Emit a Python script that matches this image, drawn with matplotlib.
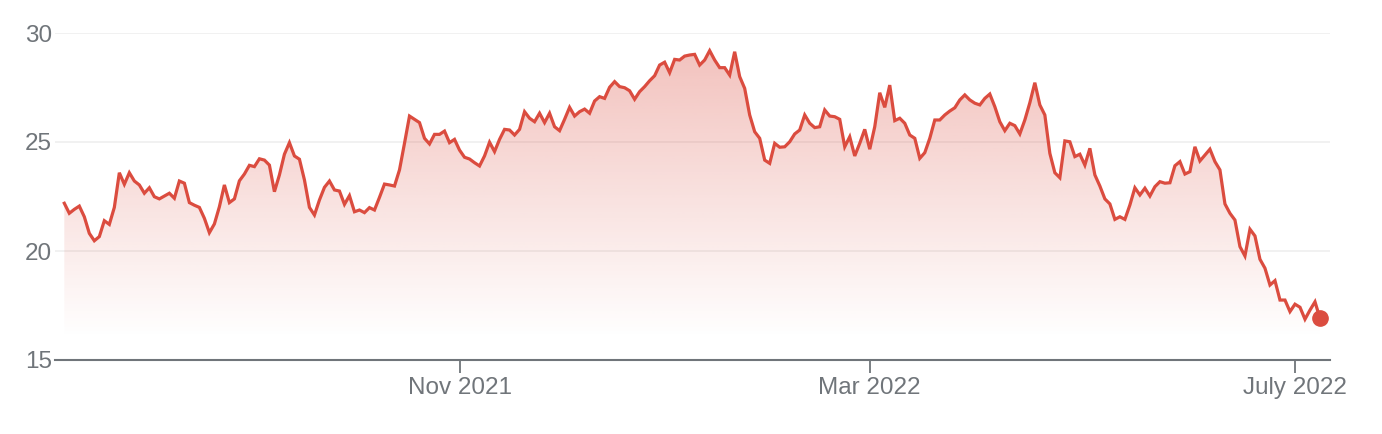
import matplotlib
matplotlib.use('Agg')
import matplotlib.pyplot as plt
import numpy as np
import pandas as pd

# daily closing prices, one per trading day
prices = [
    22.19, 21.73, 21.91, 22.06, 21.57, 20.81, 20.47, 20.66, 21.39, 21.22,
    22.00, 23.59, 23.06, 23.59, 23.21, 23.03, 22.65, 22.90, 22.49, 22.39,
    22.52, 22.65, 22.42, 23.21, 23.11, 22.22, 22.10, 22.00, 21.50, 20.84,
    21.24, 22.03, 23.03, 22.22, 22.39, 23.22, 23.53, 23.93, 23.87, 24.23,
    24.17, 23.94, 22.72, 23.49, 24.44, 24.97, 24.36, 24.21, 23.26, 22.00,
    21.65, 22.34, 22.92, 23.21, 22.80, 22.75, 22.14, 22.54, 21.80, 21.88,
    21.76, 21.99, 21.88, 22.46, 23.07, 23.03, 22.98, 23.72, 24.94, 26.19,
    26.04, 25.89, 25.17, 24.91, 25.35, 25.35, 25.50, 24.97, 25.12, 24.63,
    24.30, 24.22, 24.05, 23.90, 24.36, 24.99, 24.56, 25.12, 25.58, 25.55,
    25.32, 25.58, 26.39, 26.09, 25.93, 26.32, 25.89, 26.32, 25.70, 25.52,
    26.04, 26.59, 26.19, 26.39, 26.51, 26.32, 26.88, 27.08, 27.00, 27.51,
    27.77, 27.54, 27.49, 27.35, 26.96, 27.31, 27.54, 27.81, 28.04, 28.53,
    28.66, 28.18, 28.79, 28.76, 28.94, 28.99, 29.02, 28.53, 28.76, 29.19,
    28.76, 28.41, 28.41, 28.07, 29.14, 28.00, 27.46, 26.24, 25.47, 25.17,
    24.17, 24.02, 24.94, 24.76, 24.78, 25.01, 25.37, 25.55, 26.24, 25.86,
    25.66, 25.70, 26.47, 26.19, 26.16, 26.04, 24.78, 25.24, 24.36, 24.94,
    25.58, 24.67, 25.70, 27.26, 26.59, 27.61, 25.98, 26.09, 25.86, 25.32,
    25.17, 24.25, 24.51, 25.17, 26.01, 26.01, 26.24, 26.42, 26.57, 26.93,
    27.16, 26.93, 26.78, 26.70, 27.00, 27.20, 26.62, 25.93, 25.52, 25.86,
    25.75, 25.37, 26.01, 26.80, 27.72, 26.70, 26.24, 24.48, 23.59, 23.36,
    25.05, 25.01, 24.33, 24.44, 23.94, 24.71, 23.49, 22.98, 22.39, 22.16,
    21.45, 21.57, 21.45, 22.11, 22.90, 22.57, 22.88, 22.52, 22.95, 23.18,
    23.11, 23.13, 23.91, 24.10, 23.53, 23.64, 24.78, 24.13, 24.40, 24.67,
    24.10, 23.72, 22.16, 21.73, 21.42, 20.20, 19.77, 21.00, 20.69, 19.62,
    19.21, 18.44, 18.64, 17.75, 17.75, 17.22, 17.56, 17.42, 16.87, 17.29,
    17.67, 16.91,
]
holidays = ['2021-09-06', '2021-11-25', '2021-12-24', '2022-01-17', '2022-02-21',
            '2022-04-15', '2022-05-30', '2022-06-20', '2022-07-04']
dates = pd.bdate_range(start='2021-07-12', periods=len(prices), freq='C', holidays=holidays)
tick_dates = ['2021-11-01', '2022-03-01', '2022-07-01']
tick_labels = ['Nov 2021', 'Mar 2022', 'July 2022']
y_ticks = [15, 20, 25, 30]

red = '#db4c3f'
grey = '#70757a'

plt.rcParams['font.family'] = ['Liberation Sans', 'DejaVu Sans']

fig = plt.figure(figsize=(13.82, 4.34), dpi=100)
ax = fig.add_axes([55 / 1382, 74 / 434, 1275 / 1382, 327 / 434])

x = np.arange(len(prices))
y = np.array(prices)
x0, x1 = -1.86, len(prices) + 1.0
ax.set_xlim(x0, x1)
ax.set_ylim(15, 30)

# gradient fill under the line
poly = ax.fill_between(x, y, 15, color='none', lw=0)
grad = np.zeros((200, 2, 4))
rgb = matplotlib.colors.to_rgb(red)
grad[:, :, :3] = rgb
alpha = np.clip((np.linspace(30, 15, 200) - 16.0) / (30 - 16.0), 0, 1) * 0.36
grad[:, :, 3] = alpha[:, None]
im = ax.imshow(grad, extent=(x0, x1, 15, 30), aspect='auto', origin='upper', zorder=1)
im.set_clip_path(poly.get_paths()[0], transform=ax.transData)

ax.plot(x, y, color=red, lw=2.3, zorder=3, solid_joinstyle='miter')
ax.plot(x[-1], y[-1], 'o', color=red, markersize=11, zorder=4)

ax.set_yticks(y_ticks)
ax.set_yticklabels([str(t) for t in y_ticks])
ax.grid(axis='y', color='#f0f0f0', lw=1.3, zorder=0)
ax.set_axisbelow(True)

tick_pos = [dates.searchsorted(pd.Timestamp(d)) for d in tick_dates]
ax.set_xticks(tick_pos)
ax.set_xticklabels(tick_labels)

for s in ['top', 'right', 'left']:
    ax.spines[s].set_visible(False)
ax.spines['bottom'].set_color(grey)
ax.spines['bottom'].set_linewidth(1.5)
ax.spines['bottom'].set_zorder(5)

ax.tick_params(axis='y', length=0, pad=2, labelsize=17.5, labelcolor=grey)
ax.tick_params(axis='x', length=9, width=1.3, color=grey, pad=3.5,
               labelsize=17.5, labelcolor=grey)

fig.savefig('out.png', dpi=100)
